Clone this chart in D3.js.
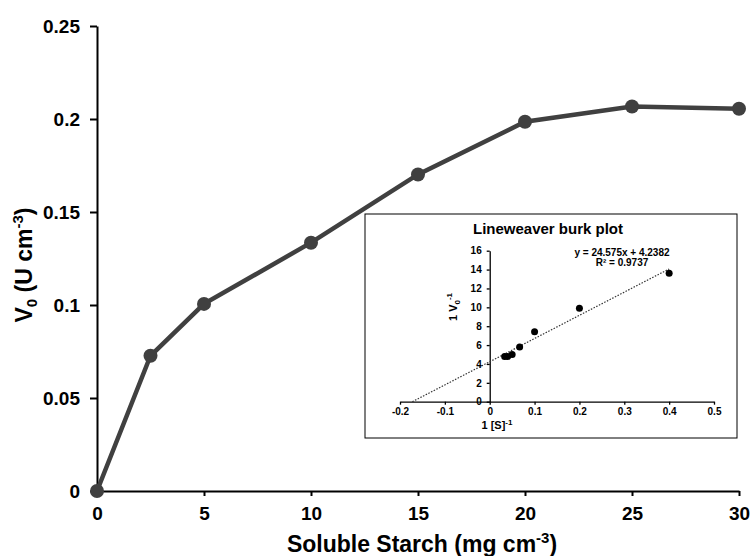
<!DOCTYPE html>
<html>
<head>
<meta charset="utf-8">
<script src="https://cdn.jsdelivr.net/npm/d3@7"></script>
<style>
  body { margin: 0; background: #fff; }
  text { font-family: "Liberation Sans", Arial, sans-serif; font-weight: bold; }
</style>
</head>
<body>
<div id="chart"></div>
<script>
// main curve: substrate (mg cm-3) vs initial velocity (U cm-3)
const substrate = [0, 2.5, 5, 10, 15, 20, 25, 30];
const velocity = [0, 0.0727, 0.1006, 0.1335, 0.1702, 0.1985, 0.2067, 0.2055];
const xTicks = [0, 5, 10, 15, 20, 25, 30];
const yTicks = [0, 0.05, 0.1, 0.15, 0.2, 0.25];

// inset: Lineweaver-Burk points
const invS = [0.4, 0.2, 0.1, 0.0667, 0.05, 0.04, 0.0333];
const invV = [13.6, 9.9, 7.4, 5.8, 5.0, 4.8, 4.8];
const insetXTicks = [-0.2, -0.1, 0, 0.1, 0.2, 0.3, 0.4, 0.5];
const insetYTicks = [0, 2, 4, 6, 8, 10, 12, 14, 16];
const slope = 24.575, intercept = 4.2382;

const W = 751, H = 556;
const fmt = d => String(+d.toFixed(2));  // plain hyphen for negatives

const svg = d3.select("#chart").append("svg")
    .attr("width", W).attr("height", H);

const x = d3.scaleLinear().domain([0, 30]).range([97, 739]);
const y = d3.scaleLinear().domain([0, 0.25]).range([491, 26]);

// axes
const xAxis = svg.append("g")
    .attr("transform", `translate(0, ${y(0)})`)
    .call(d3.axisBottom(x).tickValues(xTicks).tickSize(5).tickSizeOuter(0).tickPadding(11).tickFormat(fmt));
const yAxis = svg.append("g")
    .attr("transform", `translate(${x(0)}, 0)`)
    .call(d3.axisLeft(y).tickValues(yTicks).tickSize(7).tickSizeOuter(0).tickPadding(10).tickFormat(fmt));

[xAxis, yAxis].forEach(g => {
    g.select(".domain").attr("stroke", "#000").attr("stroke-width", 2);
    g.selectAll(".tick line").attr("stroke", "#000").attr("stroke-width", 2);
    g.selectAll(".tick text").attr("fill", "#000").style("font-size", "19px");
});

// axis titles
const xt = svg.append("text")
    .attr("x", 422).attr("y", 552)
    .attr("text-anchor", "middle")
    .style("font-size", "23px");
xt.append("tspan").text("Soluble Starch (mg cm");
xt.append("tspan").attr("dy", -9).style("font-size", "15px").text("-3");
xt.append("tspan").attr("dy", 9).text(")");

const yt = svg.append("text")
    .attr("transform", "translate(32, 265) rotate(-90)")
    .attr("text-anchor", "middle")
    .style("font-size", "23px");
yt.append("tspan").text("V");
yt.append("tspan").attr("dy", 5).style("font-size", "15px").text("0");
yt.append("tspan").attr("dy", -5).text(" (U cm");
yt.append("tspan").attr("dy", -9).style("font-size", "15px").text("-3");
yt.append("tspan").attr("dy", 9).text(")");

// curve
const data = substrate.map((s, i) => ({ s, v: velocity[i] }));
svg.append("path")
    .datum(data)
    .attr("fill", "none")
    .attr("stroke", "#404040")
    .attr("stroke-width", 4.5)
    .attr("d", d3.line().x(d => x(d.s)).y(d => y(d.v)));
svg.selectAll("circle.main")
    .data(data).enter().append("circle")
    .attr("class", "main")
    .attr("cx", d => x(d.s)).attr("cy", d => y(d.v))
    .attr("r", 7)
    .attr("fill", "#404040");

// inset
const inset = svg.append("g");
inset.append("rect")
    .attr("x", 365).attr("y", 214)
    .attr("width", 372).attr("height", 224)
    .attr("fill", "#fff").attr("stroke", "#000").attr("stroke-width", 1);

const ix = d3.scaleLinear().domain([-0.2, 0.5]).range([400, 714]);
const iy = d3.scaleLinear().domain([0, 16]).range([401.7, 250.7]);

const ixAxis = inset.append("g")
    .attr("transform", `translate(0, ${iy(0)})`)
    .call(d3.axisBottom(ix).tickValues(insetXTicks).tickSize(3).tickSizeOuter(0).tickPadding(3).tickFormat(fmt));
const iyAxis = inset.append("g")
    .attr("transform", `translate(${ix(0)}, 0)`)
    .call(d3.axisLeft(iy).tickValues(insetYTicks).tickSize(3).tickSizeOuter(0).tickPadding(5).tickFormat(fmt));
[ixAxis, iyAxis].forEach(g => {
    g.select(".domain").attr("stroke", "#000").attr("stroke-width", 1.3);
    g.selectAll(".tick line").attr("stroke", "#000").attr("stroke-width", 1.3);
    g.selectAll(".tick text").attr("fill", "#000").style("font-size", "10px");
});

// trendline
const x0 = -intercept / slope;
inset.append("line")
    .attr("x1", ix(x0)).attr("y1", iy(0))
    .attr("x2", ix(0.4)).attr("y2", iy(slope * 0.4 + intercept))
    .attr("stroke", "#333").attr("stroke-width", 1.2)
    .attr("stroke-dasharray", "1.5,1.5");

inset.selectAll("circle.lb")
    .data(invS.map((s, i) => ({ s, v: invV[i] })))
    .enter().append("circle")
    .attr("class", "lb")
    .attr("cx", d => ix(d.s)).attr("cy", d => iy(d.v))
    .attr("r", 3.5)
    .attr("fill", "#000");

inset.append("text")
    .attr("x", 548).attr("y", 234)
    .attr("text-anchor", "middle")
    .style("font-size", "15px")
    .text("Lineweaver burk plot");

inset.append("text")
    .attr("x", 622).attr("y", 256)
    .attr("text-anchor", "middle")
    .style("font-size", "10px")
    .text(`y = ${slope}x + ${intercept}`);
inset.append("text")
    .attr("x", 622).attr("y", 266)
    .attr("text-anchor", "middle")
    .style("font-size", "10px")
    .text("R² = 0.9737");

const ixt = inset.append("text")
    .attr("x", 497).attr("y", 429)
    .attr("text-anchor", "middle")
    .style("font-size", "11px");
ixt.append("tspan").text("1 [S]");
ixt.append("tspan").attr("dy", -4).style("font-size", "8px").text("-1");

const iyt = inset.append("text")
    .attr("transform", "translate(457, 307) rotate(-90)")
    .attr("text-anchor", "middle")
    .style("font-size", "11px");
iyt.append("tspan").text("1 V");
iyt.append("tspan").attr("dy", 3).style("font-size", "8px").text("0");
iyt.append("tspan").attr("dy", -8).style("font-size", "8px").text("-1");
</script>
</body>
</html>
